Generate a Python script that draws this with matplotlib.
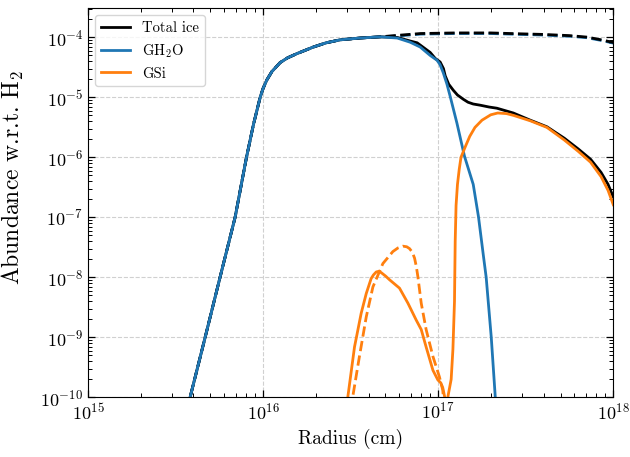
import numpy as np
import matplotlib
matplotlib.use("Agg")
import matplotlib.pyplot as plt
from matplotlib.ticker import LogLocator, NullFormatter

plt.rcParams['font.family'] = ['cmr10', 'DejaVu Serif']
plt.rcParams['mathtext.fontset'] = 'cm'
plt.rcParams['axes.unicode_minus'] = False
plt.rcParams['axes.formatter.use_mathtext'] = True

# values, as log10(radius / cm) and log10(abundance)
rise_r = [15.57, 15.583, 15.669, 15.754, 15.84, 15.905, 15.945, 15.983, 16.0,
          16.021, 16.05, 16.097, 16.14, 16.193, 16.287, 16.36, 16.44, 16.554, 16.669]
rise_y = [-10.2, -10.0, -9.0, -8.0, -7.0, -6.0, -5.45, -5.0, -4.85,
          -4.71, -4.57, -4.42, -4.34, -4.27, -4.16, -4.09, -4.04, -4.01, -3.99]

h2o_r = [16.766, 16.84, 16.897, 16.954, 16.993, 17.01, 17.029, 17.05, 17.069,
         17.107, 17.15, 17.2, 17.23, 17.259, 17.274, 17.303, 17.326, 17.335]
h2o_y = [-4.01, -4.08, -4.16, -4.30, -4.38, -4.45, -4.59, -4.78, -4.99,
         -5.43, -5.98, -6.45, -6.99, -7.66, -8.0, -9.0, -10.0, -10.2]

tot_r = [16.766, 16.84, 16.88, 16.954, 16.983, 17.011, 17.03, 17.04, 17.06,
         17.086, 17.11, 17.143, 17.17, 17.2, 17.24, 17.29, 17.335, 17.429,
         17.526, 17.621, 17.72, 17.80, 17.87, 17.93, 17.97, 18.0]
tot_y = [-4.0, -4.06, -4.09, -4.25, -4.35, -4.41, -4.52, -4.64, -4.78,
         -4.88, -4.96, -5.03, -5.08, -5.11, -5.13, -5.16, -5.18, -5.26,
         -5.38, -5.49, -5.68, -5.86, -6.03, -6.25, -6.45, -6.66]

gsi_r = [16.47, 16.484, 16.522, 16.56, 16.589, 16.617, 16.63, 16.646, 16.66,
         16.674, 16.7, 16.722, 16.779, 16.827, 16.874, 16.903, 16.931, 16.97,
         16.998, 17.015, 17.026, 17.036, 17.045, 17.056, 17.074, 17.084, 17.093,
         17.097, 17.102, 17.11, 17.12, 17.13, 17.155, 17.18, 17.21, 17.25,
         17.3, 17.34, 17.39, 17.43, 17.526, 17.621, 17.72, 17.80, 17.87,
         17.93, 17.97, 18.0]
gsi_y = [-10.3, -9.99, -9.16, -8.6, -8.27, -8.02, -7.96, -7.91, -7.9,
         -7.92, -7.98, -8.04, -8.18, -8.43, -8.71, -8.87, -9.16, -9.55,
         -9.71, -9.76, -9.84, -9.98, -10.15, -9.98, -9.7, -9.2, -8.4,
         -7.4, -6.8, -6.45, -6.2, -6.0, -5.82, -5.65, -5.5, -5.38,
         -5.29, -5.26, -5.27, -5.3, -5.39, -5.5, -5.71, -5.9, -6.08,
         -6.32, -6.55, -6.79]

# dashed model
h2o_d_r = [16.77, 16.9, 17.1, 17.3, 17.47, 17.6, 17.75, 17.85, 17.94, 18.0]
h2o_d_y = [-3.975, -3.945, -3.935, -3.935, -3.95, -3.96, -3.98, -4.005, -4.055, -4.095]
tot_d_y = [-3.965, -3.935, -3.925, -3.925, -3.94, -3.95, -3.97, -3.995, -4.045, -4.085]

gsi_d_r = [16.505, 16.512, 16.55, 16.589, 16.627, 16.684, 16.741, 16.77, 16.798,
           16.82, 16.836, 16.852, 16.865, 16.875, 16.884, 16.903, 16.931, 16.97,
           17.007, 17.026, 17.035]
gsi_d_y = [-10.2, -9.99, -9.32, -8.66, -8.16, -7.77, -7.57, -7.51, -7.48,
           -7.49, -7.52, -7.58, -7.68, -7.82, -7.99, -8.43, -8.87, -9.32,
           -9.66, -9.88, -10.2]

black = 'black'
blue = '#1f77b4'
orange = '#ff7f0e'


def lin(r, y):
    return 10 ** np.array(r), 10 ** np.array(y)


fig = plt.figure(figsize=(6.3, 4.57), dpi=100)
ax = fig.add_axes([0.1397, 0.1306, 0.8338, 0.852])

lw = 2.0
# dashed model (plateau part continues the shared rise)
x, y = lin(rise_r + h2o_d_r, rise_y + h2o_d_y)
ax.plot(x, y, color=blue, lw=lw, ls='--')
x, y = lin(rise_r + h2o_d_r, rise_y + tot_d_y)
ax.plot(x, y, color=black, lw=lw, ls='--')

x, y = lin(rise_r + tot_r, rise_y + tot_y)
ax.plot(x, y, color=black, lw=lw, label='Total ice')
x, y = lin(rise_r + h2o_r, rise_y + h2o_y)
ax.plot(x, y, color=blue, lw=lw, label='GH$_2$O')
x, y = lin(gsi_r, gsi_y)
ax.plot(x, y, color=orange, lw=lw, label='GSi')
x, y = lin(gsi_d_r, gsi_d_y)
ax.plot(x, y, color=orange, lw=lw, ls='--')

ax.set_xscale('log')
ax.set_yscale('log')
ax.set_xlim(1e15, 1e18)
ax.set_ylim(1e-10, 3.1e-4)

ax.yaxis.set_major_locator(LogLocator(base=10, numticks=20))
ax.yaxis.set_minor_locator(LogLocator(base=10, subs=np.arange(2, 10), numticks=50))
ax.yaxis.set_minor_formatter(NullFormatter())
ax.xaxis.set_minor_locator(LogLocator(base=10, subs=np.arange(2, 10), numticks=50))
ax.xaxis.set_minor_formatter(NullFormatter())

ax.tick_params(which='both', direction='in', top=True, right=True, labelsize=13)
ax.tick_params(which='major', length=5, width=0.9)
ax.tick_params(which='minor', length=3, width=0.7)
ax.grid(True, which='major', ls='--', color='#d0d0d0', lw=0.8)

ax.set_xlabel('Radius (cm)', fontsize=14)
ax.set_ylabel('Abundance w.r.t. H$_2$', fontsize=17)
ax.yaxis.set_label_coords(-0.118, 0.565)

ax.legend(loc='upper left', fontsize=10.5, framealpha=0.8, edgecolor='#cccccc')

fig.savefig('out.png', dpi=100)
